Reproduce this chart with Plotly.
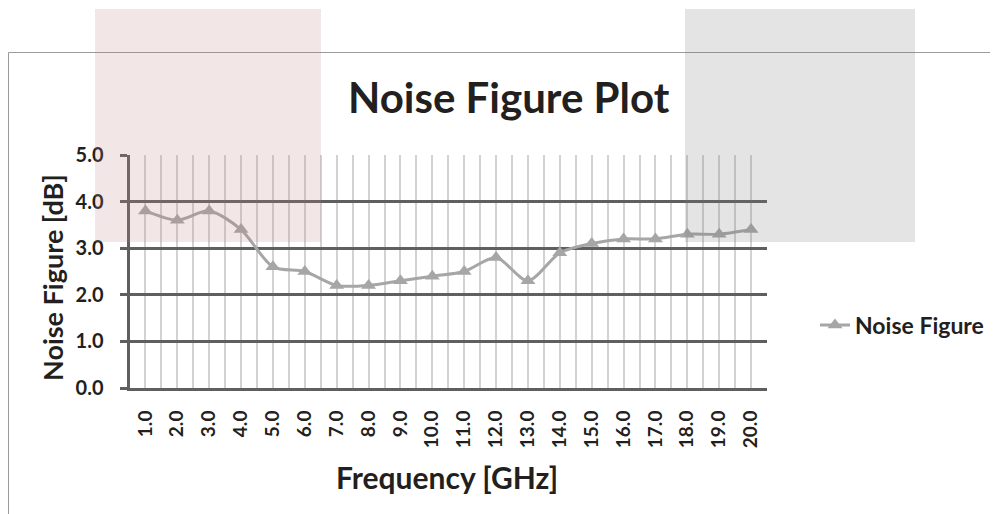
import plotly.graph_objects as go

W, H = 998, 514
OFF = 8  # page margin of the html body

freq = [1, 2, 3, 4, 5, 6, 7, 8, 9, 10, 11, 12, 13, 14, 15, 16, 17, 18, 19, 20]
freq_labels = ["1.0", "2.0", "3.0", "4.0", "5.0", "6.0", "7.0", "8.0", "9.0", "10.0",
               "11.0", "12.0", "13.0", "14.0", "15.0", "16.0", "17.0", "18.0", "19.0", "20.0"]
noise_figure = [3.8, 3.6, 3.8, 3.4, 2.6, 2.5, 2.2, 2.2, 2.3, 2.4,
                2.5, 2.8, 2.3, 2.9, 3.1, 3.2, 3.2, 3.3, 3.3, 3.4]
y_ticks = [0, 1, 2, 3, 4, 5]
y_labels = ["0.0", "1.0", "2.0", "3.0", "4.0", "5.0"]

FONT = "Lato"
TXT = "#231f20"
GRID_DARK = "#5f5f5f"
GRID_LIGHT = "#d2d2d2"
SERIES = "#a6a6a6"

def px(x):
    return (x - OFF) / W

def py(y):
    return 1 - (y - OFF) / H

fig = go.Figure()
fig.add_trace(go.Scatter(
    x=freq, y=noise_figure, name="Noise Figure",
    mode="lines+markers",
    line=dict(color=SERIES, width=3, shape="spline", smoothing=0.8),
    marker=dict(symbol="triangle-up", size=13, color=SERIES),
))

fig.update_layout(
    width=W, height=H,
    margin=dict(l=0, r=0, t=0, b=0, pad=0, autoexpand=False),
    paper_bgcolor="white", plot_bgcolor="white",
    font=dict(family=FONT, color=TXT),
    showlegend=True,
    legend=dict(x=px(815), y=py(325), xanchor="left", yanchor="middle",
                font=dict(family=FONT, size=23, color=TXT, weight="bold"),
                bgcolor="rgba(0,0,0,0)", itemwidth=30),
    xaxis=dict(
        domain=[px(129.5), px(767)],
        range=[0.5, 20.5], automargin=False,
        tickmode="array", tickvals=freq, ticktext=freq_labels,
        tickangle=-90,
        tickfont=dict(family=FONT, size=19, color=TXT, weight="bold"),
        showgrid=True, gridcolor=GRID_LIGHT, gridwidth=1.5,
        minor=dict(tickmode="linear", tick0=0.5, dtick=1, showgrid=True,
                   gridcolor=GRID_LIGHT, gridwidth=1.5, ticks=""),
        showline=True, linecolor=GRID_DARK, linewidth=3,
        ticks="", ticklabelstandoff=12, zeroline=False, fixedrange=True,
    ),
    yaxis=dict(
        domain=[py(388), py(155)],
        range=[0, 5], automargin=False,
        tickmode="array", tickvals=y_ticks, ticktext=y_labels,
        tickfont=dict(family=FONT, size=20, color=TXT, weight="bold"),
        showgrid=True, gridcolor=GRID_DARK, gridwidth=3,
        showline=True, linecolor=GRID_DARK, linewidth=3,
        ticks="outside", ticklen=7, tickwidth=3, tickcolor=GRID_DARK,
        ticklabelstandoff=12, zeroline=False, fixedrange=True,
    ),
)

# chart border
fig.add_shape(type="rect", xref="paper", yref="paper",
              x0=px(8.5), x1=px(1030), y0=py(52.5), y1=py(560),
              line=dict(color="#9a9a9a", width=1), fillcolor="rgba(0,0,0,0)", layer="above")

# overlay panels
fig.add_shape(type="rect", xref="paper", yref="paper",
              x0=px(95), x1=px(321), y0=py(242), y1=py(9),
              line=dict(width=0), fillcolor="rgba(190,130,130,0.2)", layer="above")
fig.add_shape(type="rect", xref="paper", yref="paper",
              x0=px(685), x1=px(915), y0=py(242), y1=py(9),
              line=dict(width=0), fillcolor="rgba(120,120,120,0.2)", layer="above")

# titles
fig.add_annotation(text="Noise Figure Plot", xref="paper", yref="paper",
                   x=px(509), y=py(97), showarrow=False, xanchor="center", yanchor="middle",
                   font=dict(family=FONT, size=42, color=TXT, weight="bold"))
fig.add_annotation(text="Frequency [GHz]", xref="paper", yref="paper",
                   x=px(447), y=py(477), showarrow=False, xanchor="center", yanchor="middle",
                   font=dict(family=FONT, size=30, color=TXT, weight="bold"))
fig.add_annotation(text="Noise Figure [dB]", xref="paper", yref="paper",
                   x=px(52), y=py(278), showarrow=False, xanchor="center", yanchor="middle",
                   textangle=-90,
                   font=dict(family=FONT, size=27, color=TXT, weight="bold"))

fig.write_html("out.html", config={"displayModeBar": False})
